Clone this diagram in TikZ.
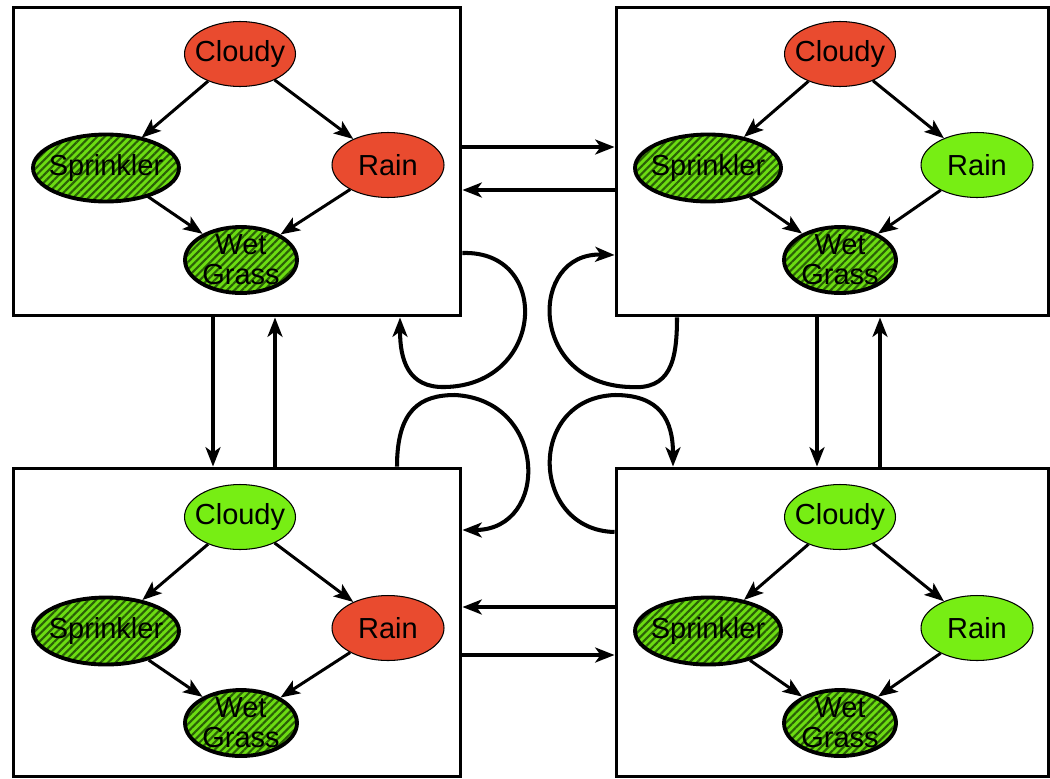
\documentclass[tikz,border=0pt]{standalone}
\usepackage{fontspec}
\setmainfont{Liberation Sans}
\usetikzlibrary{shapes.geometric,arrows.meta,patterns.meta}

\definecolor{wetred}{HTML}{E94B2F}
\definecolor{drygreen}{HTML}{77EE14}
\definecolor{hatchgreen}{HTML}{6CDC12}
\definecolor{hatchdark}{HTML}{2A6006}

\begin{document}
\begin{tikzpicture}[
    x=0.02cm, y=-0.02cm,
    box/.style={draw, line width=1.7pt, inner sep=0pt, minimum height=6.18cm},
    var/.style={ellipse, draw, inner xsep=-4pt, inner ysep=-3pt, align=center,
        font=\fontsize{16.5}{17}\selectfont},
    red/.style={var, fill=wetred, line width=0.6pt},
    green/.style={var, fill=drygreen, line width=0.6pt},
    hatch/.style={var, preaction={fill=hatchgreen}, line width=2.2pt,
        pattern={Lines[angle=45, distance=3pt, line width=1.2pt]}, pattern color=hatchdark},
    cl/.style={minimum width=2.22cm, minimum height=1.3cm},
    sp/.style={minimum width=2.92cm, minimum height=1.34cm},
    ra/.style={minimum width=2.24cm, minimum height=1.3cm},
    wg/.style={minimum width=2.24cm, minimum height=1.32cm},
    edge/.style={line width=1.7pt, -{Stealth[length=11pt, width=8.5pt, inset=2.5pt]}},
    trans/.style={line width=2.3pt, -{Stealth[length=11pt, width=8.5pt, inset=3pt]}},
]

\useasboundingbox (0,0) rectangle (1050,778);

% The four states
\node[box, minimum width=8.96cm] (tl) at (237,161.5) {};
\node[box, minimum width=8.66cm] (tr) at (832.5,161.5) {};
\node[box, minimum width=8.96cm] (bl) at (237,622.5) {};
\node[box, minimum width=8.66cm] (br) at (832.5,622.5) {};

% Top left network
\node[red, cl] (tlC) at (240,54) {Cloudy};
\node[hatch, sp] (tlS) at (106,168) {Sprinkler};
\node[red, ra] (tlR) at (388,165) {Rain};
\node[hatch, wg] (tlW) at (241,260) {Wet\\Grass};
\draw[edge] (tlC) -- (tlS);
\draw[edge] (tlC) -- (tlR);
\draw[edge] (tlS) -- (tlW);
\draw[edge] (tlR) -- (tlW);

% Top right network
\node[red, cl] (trC) at (840,54) {Cloudy};
\node[hatch, sp] (trS) at (708,168) {Sprinkler};
\node[green, ra] (trR) at (977,165) {Rain};
\node[hatch, wg] (trW) at (840,260) {Wet\\Grass};
\draw[edge] (trC) -- (trS);
\draw[edge] (trC) -- (trR);
\draw[edge] (trS) -- (trW);
\draw[edge] (trR) -- (trW);

% Bottom left network
\node[green, cl] (blC) at (240,517) {Cloudy};
\node[hatch, sp] (blS) at (106,631) {Sprinkler};
\node[red, ra] (blR) at (388,628) {Rain};
\node[hatch, wg] (blW) at (241,723) {Wet\\Grass};
\draw[edge] (blC) -- (blS);
\draw[edge] (blC) -- (blR);
\draw[edge] (blS) -- (blW);
\draw[edge] (blR) -- (blW);

% Bottom right network
\node[green, cl] (brC) at (840,517) {Cloudy};
\node[hatch, sp] (brS) at (708,631) {Sprinkler};
\node[green, ra] (brR) at (977,628) {Rain};
\node[hatch, wg] (brW) at (840,723) {Wet\\Grass};
\draw[edge] (brC) -- (brS);
\draw[edge] (brC) -- (brR);
\draw[edge] (brS) -- (brW);
\draw[edge] (brR) -- (brW);

% Transitions between states
\draw[trans] (tl.east |- 0,147) -- (tr.west |- 0,147);
\draw[trans] (tr.west |- 0,190) -- (tl.east |- 0,190);
\draw[trans] (br.west |- 0,607) -- (bl.east |- 0,607);
\draw[trans] (bl.east |- 0,655) -- (br.west |- 0,655);
\draw[trans] (tl.south -| 213,0) -- (bl.north -| 213,0);
\draw[trans] (bl.north -| 275,0) -- (tl.south -| 275,0);
\draw[trans] (tr.south -| 817,0) -- (br.north -| 817,0);
\draw[trans] (br.north -| 880,0) -- (tr.south -| 880,0);

% Self loops
\draw[trans] (tl.east |- 0,253) .. controls (552,250) and (545,385) .. (445,387)
    .. controls (408,388) and (400,360) .. (tl.south -| 400,0);
\draw[trans] (tr.south -| 677,0) .. controls (677,362) and (670,390) .. (630,387)
    .. controls (528,384) and (528,252) .. (tr.west |- 0,255);
\draw[trans] (bl.north -| 397,0) .. controls (397,410) and (420,395) .. (455,395)
    .. controls (548,400) and (550,530) .. (bl.east |- 0,530);
\draw[trans] (br.west |- 0,532) .. controls (530,530) and (526,398) .. (615,395)
    .. controls (660,395) and (673,420) .. (br.north -| 673,0);

\end{tikzpicture}
\end{document}
